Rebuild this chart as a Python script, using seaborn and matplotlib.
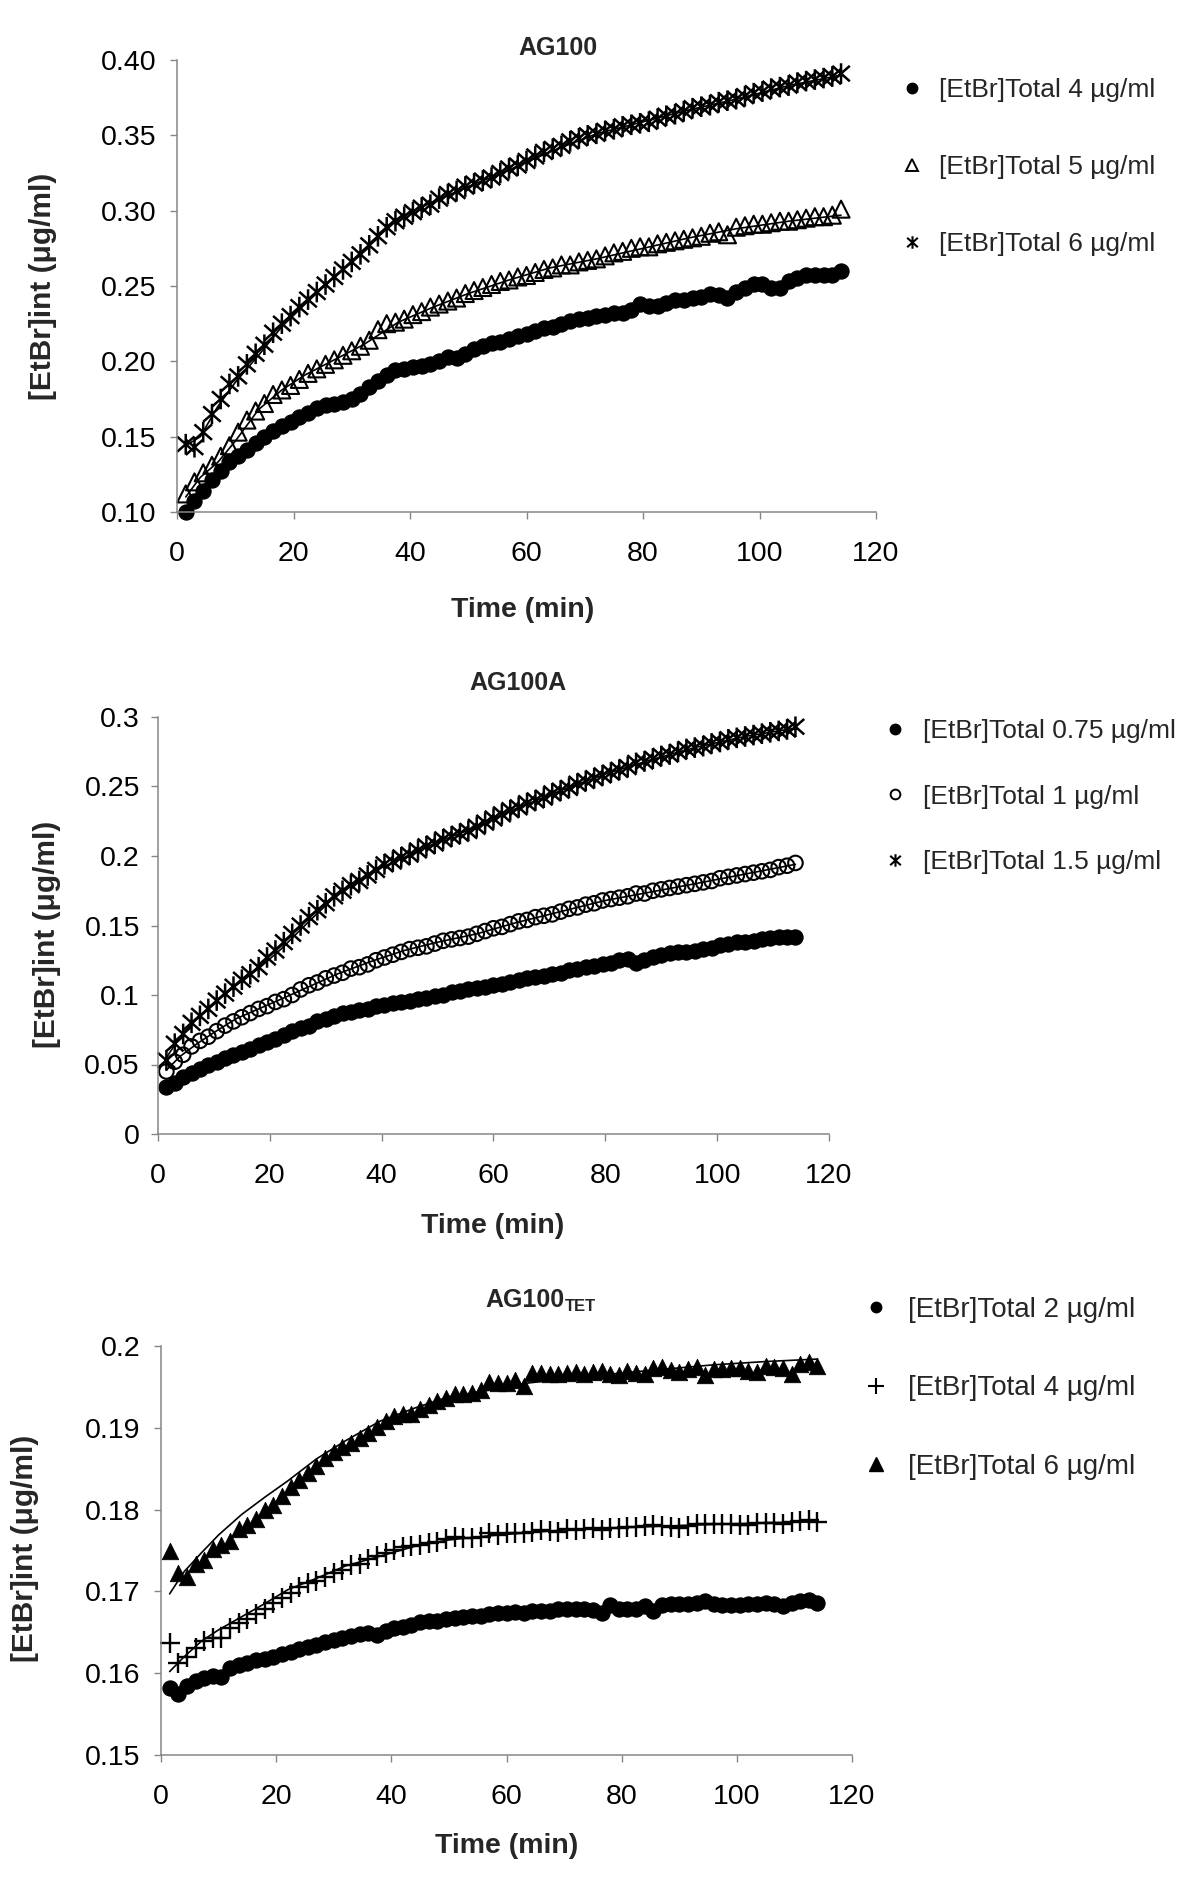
import matplotlib
matplotlib.use("Agg")
import matplotlib.pyplot as plt
from matplotlib.path import Path
from matplotlib.lines import Line2D
import seaborn as sns

# ---------------- data ----------------
TIME = [1.5, 3.0, 4.5, 6.0, 7.5, 9.0, 10.5, 12.0, 13.5, 15.0,
        16.5, 18.0, 19.5, 21.0, 22.5, 24.0, 25.5, 27.0, 28.5, 30.0,
        31.5, 33.0, 34.5, 36.0, 37.5, 39.0, 40.5, 42.0, 43.5, 45.0,
        46.5, 48.0, 49.5, 51.0, 52.5, 54.0, 55.5, 57.0, 58.5, 60.0,
        61.5, 63.0, 64.5, 66.0, 67.5, 69.0, 70.5, 72.0, 73.5, 75.0,
        76.5, 78.0, 79.5, 81.0, 82.5, 84.0, 85.5, 87.0, 88.5, 90.0,
        91.5, 93.0, 94.5, 96.0, 97.5, 99.0, 100.5, 102.0, 103.5, 105.0,
        106.5, 108.0, 109.5, 111.0, 112.5, 114.0]

TIME_FIT = [1.5, 4, 7, 10, 14, 18, 22, 27, 32, 38, 44, 50, 57, 64, 72, 80, 88, 96, 105, 114]

# AG100
AG100_4 = [0.100, 0.107, 0.114, 0.121, 0.127, 0.133, 0.137, 0.141, 0.146, 0.150,
           0.154, 0.157, 0.160, 0.163, 0.166, 0.169, 0.171, 0.172, 0.173, 0.175,
           0.178, 0.183, 0.187, 0.191, 0.194, 0.195, 0.196, 0.197, 0.198, 0.200,
           0.203, 0.202, 0.205, 0.208, 0.210, 0.212, 0.213, 0.215, 0.217, 0.218,
           0.220, 0.222, 0.223, 0.225, 0.227, 0.228, 0.229, 0.230, 0.231, 0.232,
           0.232, 0.234, 0.238, 0.237, 0.237, 0.239, 0.241, 0.241, 0.242, 0.243,
           0.245, 0.244, 0.242, 0.246, 0.249, 0.251, 0.251, 0.249, 0.249, 0.253,
           0.255, 0.257, 0.257, 0.257, 0.257, 0.260]
AG100_5 = [0.112, 0.120, 0.126, 0.131, 0.137, 0.144, 0.153, 0.161, 0.167, 0.172,
           0.178, 0.181, 0.184, 0.188, 0.192, 0.195, 0.198, 0.201, 0.204, 0.207,
           0.210, 0.214, 0.221, 0.225, 0.226, 0.228, 0.231, 0.233, 0.236, 0.238,
           0.240, 0.242, 0.245, 0.247, 0.249, 0.251, 0.253, 0.254, 0.256, 0.257,
           0.259, 0.261, 0.262, 0.264, 0.264, 0.266, 0.267, 0.268, 0.270, 0.272,
           0.273, 0.275, 0.276, 0.276, 0.278, 0.279, 0.280, 0.281, 0.282, 0.283,
           0.285, 0.286, 0.284, 0.289, 0.290, 0.291, 0.291, 0.292, 0.293, 0.293,
           0.294, 0.295, 0.296, 0.296, 0.297, 0.301]
AG100_6 = [0.145, 0.143, 0.153, 0.165, 0.175, 0.185, 0.190, 0.198, 0.205, 0.211,
           0.219, 0.225, 0.230, 0.236, 0.241, 0.246, 0.251, 0.256, 0.261, 0.266,
           0.271, 0.277, 0.283, 0.289, 0.293, 0.296, 0.299, 0.302, 0.304, 0.308,
           0.311, 0.313, 0.316, 0.318, 0.320, 0.322, 0.325, 0.328, 0.330, 0.333,
           0.336, 0.339, 0.341, 0.343, 0.346, 0.348, 0.350, 0.351, 0.353, 0.354,
           0.356, 0.357, 0.358, 0.359, 0.361, 0.363, 0.364, 0.366, 0.368, 0.369,
           0.370, 0.372, 0.373, 0.374, 0.376, 0.378, 0.379, 0.381, 0.382, 0.383,
           0.385, 0.386, 0.387, 0.388, 0.389, 0.391]
AG100_4_FIT = [0.102, 0.116, 0.126, 0.136, 0.147, 0.157, 0.165, 0.172, 0.181, 0.195,
               0.199, 0.206, 0.215, 0.223, 0.230, 0.236, 0.242, 0.247, 0.253, 0.259]
AG100_5_FIT = [0.110, 0.123, 0.133, 0.147, 0.168, 0.181, 0.191, 0.201, 0.211, 0.226,
               0.236, 0.245, 0.254, 0.262, 0.268, 0.275, 0.282, 0.288, 0.293, 0.297]
AG100_6_FIT = [0.144, 0.150, 0.170, 0.186, 0.204, 0.223, 0.238, 0.256, 0.274, 0.295,
               0.306, 0.316, 0.327, 0.339, 0.351, 0.359, 0.367, 0.374, 0.383, 0.390]

# AG100A
AG100A_075 = [0.034, 0.037, 0.041, 0.044, 0.047, 0.050, 0.052, 0.055, 0.057, 0.059,
              0.061, 0.064, 0.066, 0.068, 0.071, 0.074, 0.076, 0.078, 0.081, 0.083,
              0.085, 0.087, 0.088, 0.089, 0.090, 0.092, 0.093, 0.094, 0.095, 0.096,
              0.097, 0.098, 0.099, 0.100, 0.102, 0.103, 0.104, 0.105, 0.106, 0.107,
              0.108, 0.109, 0.111, 0.112, 0.113, 0.114, 0.115, 0.116, 0.118, 0.119,
              0.120, 0.121, 0.122, 0.123, 0.125, 0.126, 0.123, 0.125, 0.127, 0.129,
              0.130, 0.131, 0.131, 0.132, 0.133, 0.134, 0.136, 0.137, 0.138, 0.138,
              0.139, 0.140, 0.141, 0.142, 0.142, 0.142]
AG100A_1 = [0.045, 0.052, 0.057, 0.063, 0.067, 0.070, 0.074, 0.078, 0.081, 0.084,
            0.087, 0.090, 0.092, 0.095, 0.097, 0.100, 0.104, 0.107, 0.109, 0.112,
            0.114, 0.116, 0.119, 0.120, 0.122, 0.125, 0.127, 0.129, 0.131, 0.133,
            0.134, 0.135, 0.137, 0.139, 0.140, 0.141, 0.142, 0.144, 0.146, 0.148,
            0.149, 0.151, 0.153, 0.154, 0.156, 0.157, 0.158, 0.160, 0.162, 0.163,
            0.165, 0.166, 0.168, 0.169, 0.170, 0.171, 0.173, 0.173, 0.175, 0.176,
            0.177, 0.178, 0.179, 0.180, 0.181, 0.182, 0.184, 0.185, 0.186, 0.187,
            0.188, 0.189, 0.190, 0.192, 0.193, 0.195]
AG100A_15 = [0.053, 0.065, 0.072, 0.080, 0.085, 0.090, 0.096, 0.101, 0.106, 0.111,
             0.115, 0.120, 0.127, 0.132, 0.138, 0.144, 0.150, 0.156, 0.161, 0.166,
             0.171, 0.175, 0.179, 0.182, 0.186, 0.190, 0.194, 0.196, 0.199, 0.201,
             0.204, 0.207, 0.209, 0.212, 0.214, 0.216, 0.218, 0.221, 0.224, 0.227,
             0.230, 0.233, 0.235, 0.238, 0.240, 0.242, 0.245, 0.247, 0.249, 0.252,
             0.254, 0.256, 0.258, 0.260, 0.262, 0.264, 0.267, 0.268, 0.270, 0.272,
             0.273, 0.275, 0.277, 0.278, 0.279, 0.281, 0.282, 0.284, 0.285, 0.286,
             0.287, 0.288, 0.289, 0.290, 0.291, 0.293]
AG100A_075_FIT = [0.034, 0.040, 0.046, 0.051, 0.058, 0.064, 0.070, 0.078, 0.086, 0.091,
                  0.095, 0.100, 0.105, 0.110, 0.116, 0.122, 0.127, 0.132, 0.138, 0.142]
AG100A_1_FIT = [0.046, 0.056, 0.065, 0.073, 0.083, 0.090, 0.097, 0.106, 0.115, 0.124,
                0.132, 0.138, 0.144, 0.152, 0.160, 0.168, 0.174, 0.180, 0.187, 0.194]
AG100A_15_FIT = [0.055, 0.070, 0.083, 0.094, 0.107, 0.119, 0.133, 0.153, 0.172, 0.188,
                 0.199, 0.210, 0.221, 0.234, 0.247, 0.259, 0.269, 0.278, 0.286, 0.292]

# AG100 TET
TET_2 = [0.1582, 0.1575, 0.1584, 0.1590, 0.1594, 0.1597, 0.1595, 0.1606, 0.1610, 0.1613,
         0.1616, 0.1617, 0.1620, 0.1623, 0.1626, 0.1629, 0.1632, 0.1635, 0.1638, 0.1641,
         0.1643, 0.1646, 0.1648, 0.1649, 0.1647, 0.1651, 0.1655, 0.1657, 0.1659, 0.1663,
         0.1664, 0.1664, 0.1666, 0.1668, 0.1669, 0.1670, 0.1670, 0.1672, 0.1673, 0.1674,
         0.1675, 0.1674, 0.1676, 0.1676, 0.1676, 0.1678, 0.1678, 0.1679, 0.1678, 0.1677,
         0.1674, 0.1683, 0.1678, 0.1678, 0.1679, 0.1682, 0.1676, 0.1683, 0.1684, 0.1684,
         0.1684, 0.1686, 0.1688, 0.1684, 0.1683, 0.1683, 0.1683, 0.1684, 0.1684, 0.1686,
         0.1685, 0.1682, 0.1686, 0.1688, 0.1690, 0.1686]
TET_4 = [0.1637, 0.1612, 0.1620, 0.1631, 0.1639, 0.1643, 0.1643, 0.1655, 0.1661, 0.1666,
         0.1672, 0.1678, 0.1686, 0.1692, 0.1698, 0.1705, 0.1710, 0.1713, 0.1717, 0.1722,
         0.1726, 0.1732, 0.1734, 0.1739, 0.1743, 0.1747, 0.1751, 0.1754, 0.1755, 0.1757,
         0.1759, 0.1761, 0.1764, 0.1767, 0.1765, 0.1765, 0.1767, 0.1771, 0.1769, 0.1771,
         0.1771, 0.1772, 0.1773, 0.1775, 0.1774, 0.1773, 0.1776, 0.1775, 0.1776, 0.1777,
         0.1775, 0.1777, 0.1778, 0.1779, 0.1779, 0.1780, 0.1781, 0.1780, 0.1779, 0.1777,
         0.1780, 0.1782, 0.1783, 0.1782, 0.1782, 0.1782, 0.1781, 0.1781, 0.1784, 0.1784,
         0.1784, 0.1783, 0.1785, 0.1786, 0.1787, 0.1785]
TET_6 = [0.1749, 0.1722, 0.1718, 0.1734, 0.1738, 0.1752, 0.1757, 0.1762, 0.1776, 0.1781,
         0.1789, 0.1799, 0.1806, 0.1817, 0.1828, 0.1836, 0.1845, 0.1853, 0.1863, 0.1870,
         0.1877, 0.1882, 0.1888, 0.1894, 0.1901, 0.1908, 0.1914, 0.1917, 0.1917, 0.1923,
         0.1928, 0.1933, 0.1937, 0.1941, 0.1941, 0.1942, 0.1946, 0.1956, 0.1955, 0.1955,
         0.1959, 0.1951, 0.1967, 0.1967, 0.1966, 0.1966, 0.1967, 0.1968, 0.1966, 0.1968,
         0.1970, 0.1966, 0.1964, 0.1970, 0.1967, 0.1966, 0.1973, 0.1974, 0.1971, 0.1968,
         0.1972, 0.1974, 0.1964, 0.1972, 0.1972, 0.1973, 0.1973, 0.1970, 0.1968, 0.1976,
         0.1974, 0.1973, 0.1966, 0.1978, 0.1980, 0.1976]
TET_2_FIT = [0.1580, 0.1582, 0.1592, 0.1600, 0.1610, 0.1618, 0.1625, 0.1635, 0.1644, 0.1651,
             0.1660, 0.1666, 0.1671, 0.1675, 0.1678, 0.1680, 0.1683, 0.1684, 0.1685, 0.1686]
TET_4_FIT = [0.1602, 0.1620, 0.1639, 0.1653, 0.1669, 0.1685, 0.1702, 0.1716, 0.1731, 0.1743,
             0.1755, 0.1763, 0.1768, 0.1772, 0.1776, 0.1778, 0.1780, 0.1782, 0.1784, 0.1785]
TET_6_FIT = [0.1697, 0.1724, 0.1747, 0.1769, 0.1794, 0.1815, 0.1835, 0.1862, 0.1884, 0.1908,
             0.1924, 0.1938, 0.1946, 0.1955, 0.1961, 0.1967, 0.1972, 0.1977, 0.1981, 0.1984]

X_TICKS = [0, 20, 40, 60, 80, 100, 120]
Y1_TICKS = [0.10, 0.15, 0.20, 0.25, 0.30, 0.35, 0.40]
Y1_LABELS = ["0.10", "0.15", "0.20", "0.25", "0.30", "0.35", "0.40"]
Y2_TICKS = [0, 0.05, 0.1, 0.15, 0.2, 0.25, 0.3]
Y2_LABELS = ["0", "0.05", "0.1", "0.15", "0.2", "0.25", "0.3"]
Y3_TICKS = [0.15, 0.16, 0.17, 0.18, 0.19, 0.2]
Y3_LABELS = ["0.15", "0.16", "0.17", "0.18", "0.19", "0.2"]

LEG1 = ["[EtBr]Total 4 µg/ml", "[EtBr]Total 5 µg/ml", "[EtBr]Total 6 µg/ml"]
LEG2 = ["[EtBr]Total 0.75 µg/ml", "[EtBr]Total 1 µg/ml", "[EtBr]Total 1.5 µg/ml"]
LEG3 = ["[EtBr]Total 2 µg/ml", "[EtBr]Total 4 µg/ml", "[EtBr]Total 6 µg/ml"]

# ---------------- styling ----------------
sns.set_theme(style="white")
plt.rcParams['font.family'] = ['Liberation Sans', 'DejaVu Sans']

W, H = 1200, 1889
fig = plt.figure(figsize=(12, 18.89), dpi=100)
GRAY = "#868686"


def fx(x):
    return x / W


def fy(y):
    return 1 - y / H


def make_axes(left, right, top, bottom):
    return fig.add_axes([fx(left), fy(bottom), fx(right) - fx(left), fy(top) - fy(bottom)])


STAR = Path([(0, -1), (0, 1), (-0.85, -0.75), (0.85, 0.75), (-0.85, 0.75), (0.85, -0.75)],
            [Path.MOVETO, Path.LINETO, Path.MOVETO, Path.LINETO, Path.MOVETO, Path.LINETO])

STYLES = {
    "dot": dict(marker="o", s=120, color="black", edgecolor="black", linewidth=0.8),
    "tri_open": dict(marker="^", s=150, color="black", facecolor="none", edgecolor="black", linewidth=1.5),
    "star": dict(marker=STAR, s=220, color="black", facecolor="none", edgecolor="black", linewidth=1.8),
    "circ_open": dict(marker="o", s=110, color="black", facecolor="none", edgecolor="black", linewidth=1.5),
    "plus": dict(marker="+", s=200, color="black", linewidth=1.7),
    "tri_fill": dict(marker="^", s=140, color="black", edgecolor="black", linewidth=0.6),
}

LEG_HANDLES = {
    "dot": dict(marker="o", markersize=7.5, markerfacecolor="black", markeredgecolor="black"),
    "tri_open": dict(marker="^", markersize=8, markerfacecolor="none", markeredgecolor="black", markeredgewidth=1.4),
    "star": dict(marker=STAR, markersize=9, markerfacecolor="none", markeredgecolor="black", markeredgewidth=1.5),
    "circ_open": dict(marker="o", markersize=7, markerfacecolor="none", markeredgecolor="black", markeredgewidth=1.4),
    "plus": dict(marker="+", markersize=11, markeredgecolor="black", markeredgewidth=1.5),
    "tri_fill": dict(marker="^", markersize=9.5, markerfacecolor="black", markeredgecolor="black"),
}


def style_axes(ax, yticks, ylabels, ylim, fs, ypad):
    ax.set_xlim(0, 120)
    ax.set_ylim(*ylim)
    ax.set_xticks(X_TICKS)
    ax.set_xticklabels([str(t) for t in X_TICKS])
    ax.set_yticks(yticks)
    ax.set_yticklabels(ylabels)
    for side in ("top", "right"):
        ax.spines[side].set_visible(False)
    for side in ("left", "bottom"):
        ax.spines[side].set_color(GRAY)
        ax.spines[side].set_linewidth(1.1)
    ax.tick_params(axis="both", which="major", direction="out", length=5, width=1.0,
                   color=GRAY, labelsize=fs, labelcolor="black", bottom=True, left=True)
    ax.tick_params(axis="x", pad=16)
    ax.tick_params(axis="y", pad=ypad)
    ax.set_xlabel("")
    ax.set_ylabel("")
    ax.set_facecolor("none")


def draw_series(ax, series, fits, kinds):
    for vals, kind in zip(series, kinds):
        sns.scatterplot(x=TIME, y=vals, ax=ax, legend=False, clip_on=False, zorder=2, **STYLES[kind])
    for fit in fits:
        sns.lineplot(x=TIME_FIT, y=fit, ax=ax, color="black", linewidth=1.2, sort=False,
                     estimator=None, legend=False, zorder=3)


def add_legend(ax, kinds, labels, marker_x, text_x, first_y, spacing, fs):
    fs_px = fs * 100 / 72
    hl = 0.8
    h_text = 0.88 * fs_px
    handles = [Line2D([], [], linestyle="none", **LEG_HANDLES[k]) for k in kinds]
    ax.legend(handles=handles, labels=labels, loc="upper left",
              bbox_to_anchor=(fx(marker_x - hl * fs_px / 2), fy(first_y - h_text / 2)),
              bbox_transform=fig.transFigure, frameon=False, fontsize=fs,
              handlelength=hl, handletextpad=(text_x - marker_x - hl * fs_px / 2) / fs_px,
              labelspacing=(spacing - h_text) / fs_px, borderpad=0, borderaxespad=0,
              numpoints=1)


# ---------------- panel 1: AG100 ----------------
ax1 = make_axes(177, 876, 60, 512)
draw_series(ax1, [AG100_4, AG100_5, AG100_6], [AG100_4_FIT, AG100_5_FIT, AG100_6_FIT],
            ["dot", "tri_open", "star"])
style_axes(ax1, Y1_TICKS, Y1_LABELS, (0.10, 0.40), 20.5, 9.5)
add_legend(ax1, ["dot", "tri_open", "star"], LEG1, 912, 939, 90, 76, 19)
fig.text(fx(558), fy(48), "AG100", ha="center", va="center", fontsize=18, fontweight="bold")
fig.text(fx(523), fy(610), "Time (min)", ha="center", va="center", fontsize=20.5, fontweight="bold")
fig.text(fx(43), fy(286), "[EtBr]int (μg/ml)", ha="center", va="center", rotation=90,
         fontsize=21.5, fontweight="bold")

# ---------------- panel 2: AG100A ----------------
ax2 = make_axes(158, 829, 717, 1134)
draw_series(ax2, [AG100A_075, AG100A_1, AG100A_15], [AG100A_075_FIT, AG100A_1_FIT, AG100A_15_FIT],
            ["dot", "circ_open", "star"])
style_axes(ax2, Y2_TICKS, Y2_LABELS, (0, 0.3), 20.5, 8)
add_legend(ax2, ["dot", "circ_open", "star"], LEG2, 895, 923, 731, 64.5, 19)
fig.text(fx(518), fy(683), "AG100A", ha="center", va="center", fontsize=18, fontweight="bold")
fig.text(fx(493), fy(1226), "Time (min)", ha="center", va="center", fontsize=20.5, fontweight="bold")
fig.text(fx(47), fy(934), "[EtBr]int (μg/ml)", ha="center", va="center", rotation=90,
         fontsize=21.5, fontweight="bold")

# ---------------- panel 3: AG100 TET ----------------
ax3 = make_axes(161, 852, 1346, 1755)
draw_series(ax3, [TET_2, TET_4, TET_6], [TET_2_FIT, TET_4_FIT, TET_6_FIT],
            ["dot", "plus", "tri_fill"])
style_axes(ax3, Y3_TICKS, Y3_LABELS, (0.15, 0.2), 20.5, 9.5)
add_legend(ax3, ["dot", "plus", "tri_fill"], LEG3, 876, 908, 1309, 77, 20)
fig.text(fx(564), fy(1307), "AG100", ha="right", va="baseline", fontsize=18, fontweight="bold")
fig.text(fx(565), fy(1311), "TET", ha="left", va="baseline", fontsize=12, fontweight="bold")
fig.text(fx(507), fy(1846), "Time (min)", ha="center", va="center", fontsize=20.5, fontweight="bold")
fig.text(fx(25), fy(1548), "[EtBr]int (μg/ml)", ha="center", va="center", rotation=90,
         fontsize=21.5, fontweight="bold")

fig.savefig("out.png", dpi=100, facecolor="white")
